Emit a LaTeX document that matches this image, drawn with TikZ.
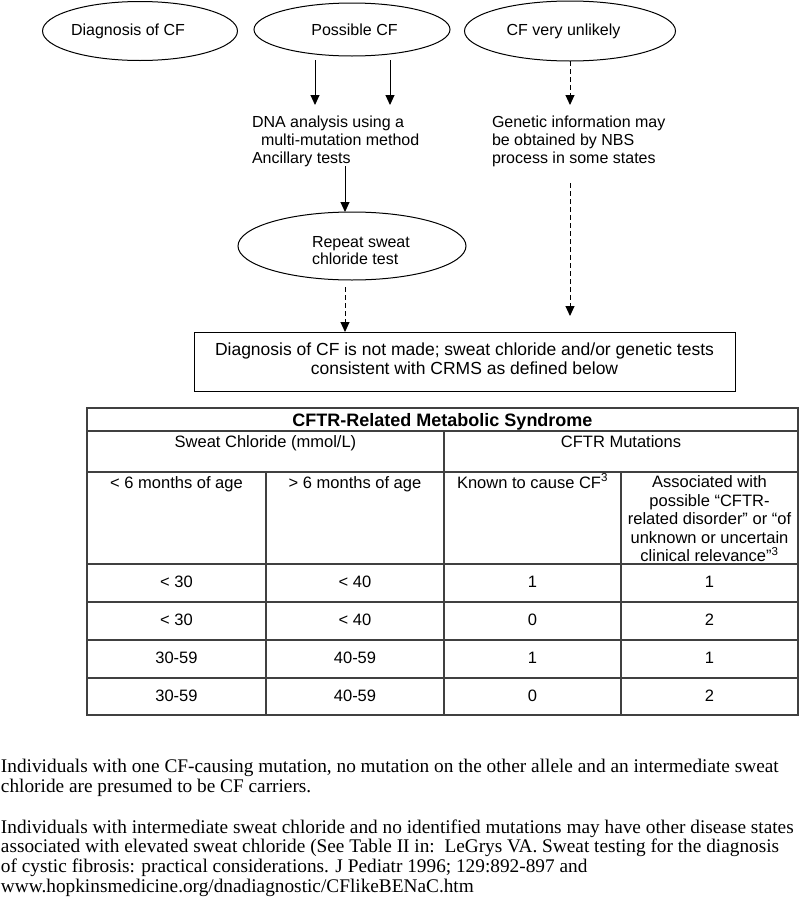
\documentclass[tikz,border=0pt]{standalone}
\usepackage{fontspec}
\setmainfont{Liberation Sans}
\newfontfamily\timesf{Liberation Serif}
\usetikzlibrary{arrows.meta,shapes.geometric}
\begin{document}
\begin{tikzpicture}[x=1pt,y=-1pt,
  every node/.style={inner sep=0pt, outer sep=0pt},
  oval/.style={draw, ellipse, line width=1pt, font=\fontsize{16}{18}\selectfont},
  arr/.style={line width=1pt, -{Triangle[width=9pt,length=10pt]}},
  darr/.style={arr, dash pattern=on 5pt off 3pt},
  flow/.style={align=left, anchor=north west, font=\fontsize{16}{18}\selectfont},
  tline/.style={line width=1.2pt, draw=black!75},
  tcell/.style={align=center, font=\fontsize{16.5}{18.5}\selectfont},
  foot/.style={align=left, anchor=north west, font=\timesf\fontsize{19.3}{19.8}\selectfont}]
\useasboundingbox[fill=white] (0,0) rectangle (799,900);

% flowchart
\node[oval, minimum width=192pt, minimum height=59pt] (e1) at (140,31) {Diagnosis of CF\hspace*{24pt}};
\node[oval, minimum width=196pt, minimum height=53pt] (e2) at (352,29.5) {\hspace*{5pt}Possible CF};
\node[oval, minimum width=211pt, minimum height=60pt] (e3) at (570,31) {CF very unlikely\hspace*{13pt}};

\node[flow] (t1) at (252,116) {DNA analysis using a\\\hspace*{9pt}multi-mutation method\\Ancillary tests};
\node[flow] (t2) at (492,116) {Genetic information may\\be obtained by NBS\\process in some states};

\node[draw, ellipse, line width=1pt, minimum width=228pt, minimum height=68pt] (e4) at (352,246) {};
\node[flow, font=\fontsize{16}{17.5}\selectfont] (e4t) at (312,236) {Repeat sweat\\chloride test};

\node[draw, line width=1pt, minimum width=541pt, minimum height=59pt] (box) at (464.5,361.5) {};
\node[align=center, anchor=north, font=\fontsize{17.5}{19}\selectfont] (boxt) at (464.5,342.5)
  {Diagnosis of CF is not made; sweat chloride and/or genetic tests\\consistent with CRMS as defined below};

\draw[arr] ([xshift=-37pt,yshift=-4pt]e2.south) -- ([xshift=63pt,yshift=11pt]t1.north west);
\draw[arr] ([xshift=38pt,yshift=-4pt]e2.south) -- ([xshift=138pt,yshift=11pt]t1.north west);
\draw[arr] ([xshift=93pt,yshift=-50pt]t1.north west) -- ([xshift=-7pt]e4.north);
\draw[darr] ([xshift=-7pt,yshift=-7pt]e4.south) -- ([xshift=-119.5pt]box.north);
\draw[darr] (e3.south) -- ([xshift=78pt,yshift=11pt]t2.north west);
\draw[darr] ([xshift=78pt,yshift=-67pt]t2.north west) -- ([xshift=105.5pt,yshift=16pt]box.north);

% table
\draw[tline] (87,408) rectangle (798,715);
\draw[tline] (87,431) -- (798,431);
\draw[tline] (87,472) -- (798,472);
\draw[tline] (87,564) -- (798,564);
\draw[tline] (87,602) -- (798,602);
\draw[tline] (87,640) -- (798,640);
\draw[tline] (87,678) -- (798,678);
\draw[tline] (444,431) -- (444,715);
\draw[tline] (266,472) -- (266,715);
\draw[tline] (621,472) -- (621,715);

\node[anchor=base, font=\bfseries\fontsize{18}{20}\selectfont] (title) at (442.5,426.5) {CFTR-Related Metabolic Syndrome};
\node[tcell, anchor=base] (h1) at (265.5,447) {Sweat Chloride (mmol/L)};
\node[tcell, anchor=base] (h2) at (621,447) {CFTR Mutations};
\node[tcell, anchor=base] (h3) at (176.5,488) {< 6 months of age};
\node[tcell, anchor=base] (h4) at (355,488) {> 6 months of age};
\node[tcell, anchor=base] (h5) at (532.5,488) {Known to cause CF\textsuperscript{3}};
\node[tcell, anchor=north] (h6) at (709.5,476) {Associated with\\possible “CFTR-\\related disorder” or “of\\unknown or uncertain\\clinical relevance”\textsuperscript{3}};

\node[tcell, anchor=base] (r1a) at (176.5,587) {< 30};
\node[tcell, anchor=base] (r1b) at (355,587) {< 40};
\node[tcell, anchor=base] (r1c) at (532.5,587) {1};
\node[tcell, anchor=base] (r1d) at (709.5,587) {1};
\node[tcell, anchor=base] (r2a) at (176.5,625) {< 30};
\node[tcell, anchor=base] (r2b) at (355,625) {< 40};
\node[tcell, anchor=base] (r2c) at (532.5,625) {0};
\node[tcell, anchor=base] (r2d) at (709.5,625) {2};
\node[tcell, anchor=base] (r3a) at (176.5,663) {30-59};
\node[tcell, anchor=base] (r3b) at (355,663) {40-59};
\node[tcell, anchor=base] (r3c) at (532.5,663) {1};
\node[tcell, anchor=base] (r3d) at (709.5,663) {1};
\node[tcell, anchor=base] (r4a) at (176.5,701) {30-59};
\node[tcell, anchor=base] (r4b) at (355,701) {40-59};
\node[tcell, anchor=base] (r4c) at (532.5,701) {0};
\node[tcell, anchor=base] (r4d) at (709.5,701) {2};

% footnotes
\node[foot] (f1) at (1,759.5) {Individuals with one CF-causing mutation, no mutation on the other allele and an intermediate sweat\\chloride are presumed to be CF carriers.};
\node[foot] (f2) at (1,819.5) {Individuals with intermediate sweat chloride and no identified mutations may have other disease states\\associated with elevated sweat chloride (See Table II in:\ \ LeGrys VA. Sweat testing for the diagnosis\\of cystic fibrosis: practical considerations. J Pediatr 1996; 129:892-897 and\\www.hopkinsmedicine.org/dnadiagnostic/CFlikeBENaC.htm};
\end{tikzpicture}
\end{document}
